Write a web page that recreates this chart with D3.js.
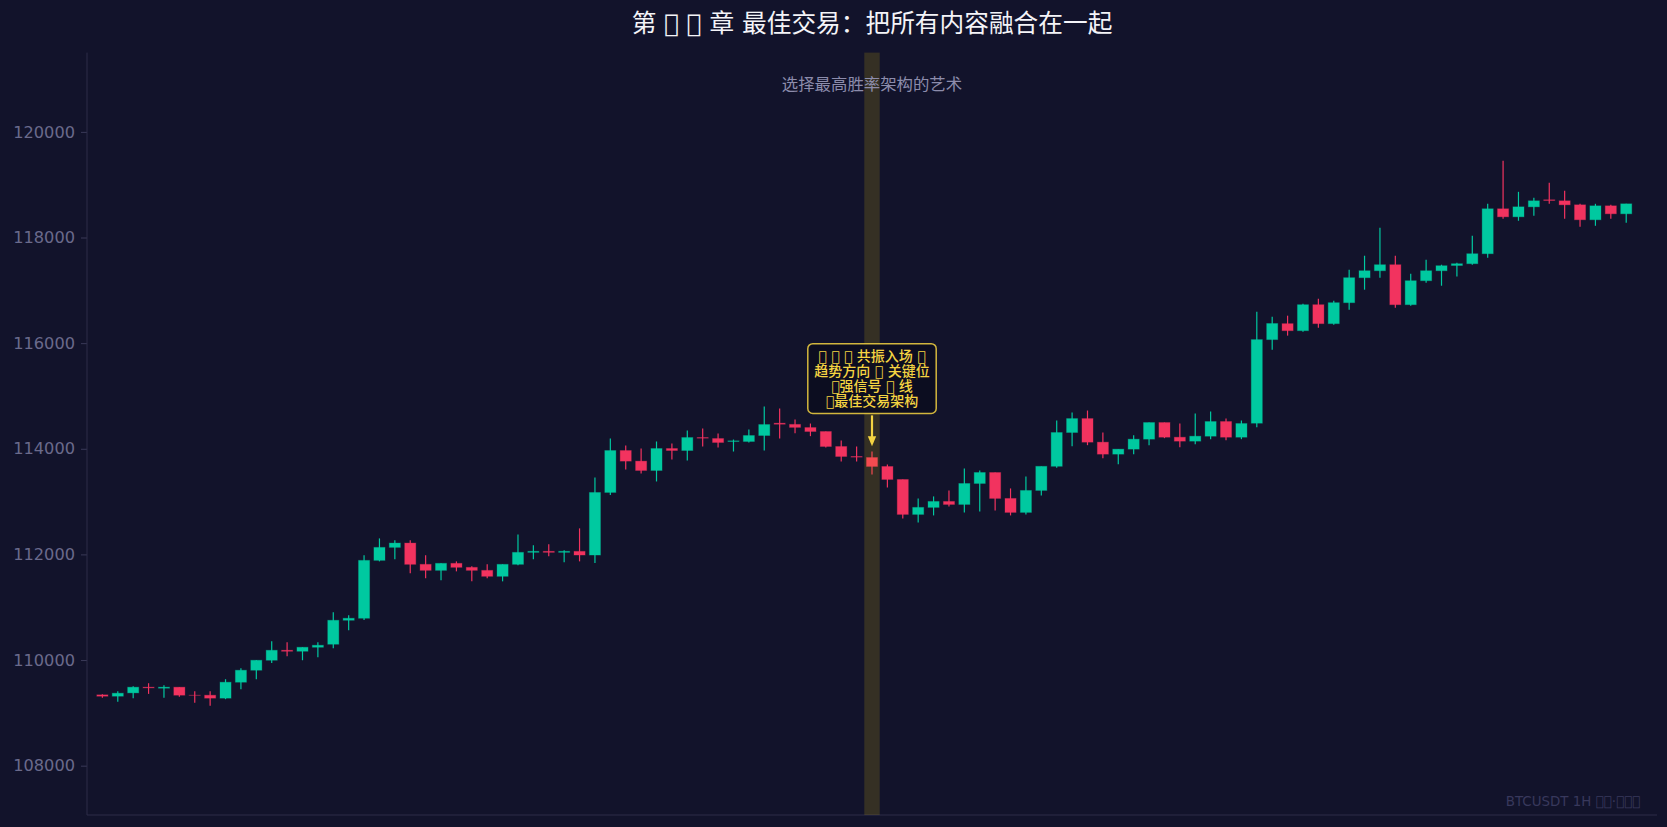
<!DOCTYPE html>
<html><head><meta charset="utf-8">
<script src="https://cdn.jsdelivr.net/npm/d3@7"></script>
<style>
html,body{margin:0;padding:0;background:#12132b;}
svg{display:block;}
</style></head>
<body>
<svg id="chart" width="1667" height="827"></svg>
<script>
// ---- data ----
const candleIndex = d3.range(100);
const openVals  = [109341,109315,109378,109486,109467,109486,109334,109334,109278,109580,
  109807,109996,110185,110166,110242,110299,110753,110791,111887,112133,
  112215,111812,111698,111831,111755,111698,111585,111812,112039,112058,
  112039,112058,111988,113173,113967,113766,113589,114005,113967,114213,
  114194,114138,114138,114251,114484,114462,114402,114327,114043,113854,
  113835,113665,113419,112757,112890,113003,112946,113343,113551,113060,
  112795,113211,113668,114308,114572,114125,113898,113993,114182,114497,
  114219,114144,114238,114516,114219,114484,116067,116369,116236,116728,
  116369,116766,117239,117371,117485,116728,117182,117371,117470,117504,
  117693,118544,118392,118581,118714,118695,118619,118336,118600,118449];
const highVals  = [109353,109410,109504,109561,109523,109486,109410,109410,109637,109845,
  110000,110356,110337,110242,110337,110904,110847,111982,112303,112266,
  112266,111982,111831,111868,111774,111812,111812,112379,112171,112190,
  112077,112493,113457,114194,114062,114005,114138,114100,114346,114383,
  114289,114175,114365,114799,114762,114554,114478,114327,114157,114043,
  113949,113703,113419,113060,113098,113211,113627,113589,113551,113249,
  113476,113665,114535,114686,114724,114308,113993,114257,114497,114497,
  114478,114667,114705,114572,114535,116596,116502,116520,116747,116842,
  116804,117390,117655,118184,117655,117314,117579,117485,117522,118033,
  118638,119451,118865,118752,119035,118884,118638,118638,118619,118638];
const lowVals   = [109284,109208,109278,109359,109284,109303,109189,109133,109259,109448,
  109637,109946,110072,109996,110053,110223,110563,110760,111868,111906,
  111641,111547,111509,111679,111490,111547,111490,111793,111906,111963,
  111850,111868,111837,113123,113608,113532,113381,113797,113778,114043,
  114024,113948,114119,113967,114194,114292,114239,114024,113760,113760,
  113514,113268,112682,112606,112738,112908,112795,112814,112833,112738,
  112757,113116,113639,114049,114068,113822,113709,113898,114068,114201,
  114030,114087,114182,114163,114182,114409,115877,116142,116217,116293,
  116350,116634,117012,117239,116672,116709,117144,117087,117261,117485,
  117617,118354,118317,118411,118638,118354,118203,118222,118354,118279];
const closeVals = [109315,109372,109486,109473,109486,109334,109330,109278,109580,109807,
  109996,110185,110166,110242,110280,110753,110791,111887,112133,112215,
  111812,111698,111831,111755,111698,111585,111812,112039,112058,112039,
  112058,111988,113173,113967,113766,113589,114005,113967,114213,114201,
  114119,114150,114251,114459,114465,114405,114327,114043,113854,113842,
  113665,113419,112757,112890,113003,112946,113343,113551,113060,112795,
  113211,113668,114308,114572,114125,113898,113993,114182,114497,114219,
  114144,114238,114516,114219,114478,116067,116372,116236,116728,116369,
  116766,117239,117371,117485,116728,117182,117371,117466,117504,117693,
  118544,118392,118581,118695,118701,118619,118336,118600,118449,118638];
const yTickValues = [108000,110000,112000,114000,116000,118000,120000];
const xDomain = [-1, 101];
const yDomain = [107066, 121501];
const highlightIndex = 50;
// glyphs the original font could not draw are kept as unassigned (private use) code points
const titleText = "第 \uE001 \uE002 章 最佳交易：把所有内容融合在一起";
const subtitleText = "选择最高胜率架构的艺术";
const annotationLines = ["\uE010 \uE011 \uE012 共振入场 \uE013", "趋势方向 \uE014 关键位", "\uE015强信号 \uE016 线", "\uE017最佳交易架构"];
const annotationPrice = 115330;
const watermarkText = "BTCUSDT 1H  \uE020\uE021·\uE022\uE023\uE024";

// ---- style ----
const UP = "#00c9a0", DOWN = "#f2335f", GOLD = "#f5d442";
const plot = {left: 87, right: 1657, top: 52.6, bottom: 815};

const svg = d3.select("#chart");
svg.append("rect").attr("width",1667).attr("height",827).attr("fill","#12132b");

const x = d3.scaleLinear().domain(xDomain).range([plot.left, plot.right]);
const y = d3.scaleLinear().domain(yDomain).range([plot.bottom, plot.top]);
const unit = x(1) - x(0);

const data = candleIndex.map(i => ({i, o: openVals[i], h: highVals[i], l: lowVals[i], c: closeVals[i]}));

// y axis
const yAxis = d3.axisLeft(y).tickValues(yTickValues).tickSize(6).tickPadding(6).tickFormat(d3.format("d"));
const ga = svg.append("g").attr("transform", `translate(${plot.left},0)`).call(yAxis);
ga.select(".domain").remove();
ga.selectAll(".tick line").attr("stroke", "#3a3a58").attr("stroke-width", 1);
ga.selectAll(".tick text").attr("fill", "#6a6a8b").style("font-family", "DejaVu Sans").style("font-size", "16.2px");

// spines
svg.append("line").attr("x1", plot.left).attr("x2", plot.left).attr("y1", plot.top).attr("y2", plot.bottom)
  .attr("stroke", "#2c2c48").attr("stroke-width", 1);
svg.append("line").attr("x1", plot.left).attr("x2", plot.right).attr("y1", plot.bottom).attr("y2", plot.bottom)
  .attr("stroke", "#2c2c48").attr("stroke-width", 1);

// candles
const g = svg.append("g");
const bw = unit * 0.72;
g.selectAll("line.wick").data(data).join("line").attr("class","wick")
  .attr("x1", d => x(d.i)).attr("x2", d => x(d.i))
  .attr("y1", d => y(d.h)).attr("y2", d => y(d.l))
  .attr("stroke", d => d.c >= d.o ? UP : DOWN).attr("stroke-width", 1.2);
g.selectAll("rect.body").data(data).join("rect").attr("class","body")
  .attr("x", d => x(d.i) - bw/2).attr("width", bw)
  .attr("y", d => y(Math.max(d.o, d.c)))
  .attr("height", d => Math.abs(y(d.o) - y(d.c)))
  .attr("fill", d => d.c >= d.o ? UP : DOWN)
  .attr("stroke", d => d.c >= d.o ? UP : DOWN)
  .attr("stroke-opacity", 0.3).attr("stroke-width", 1);

// highlight band
svg.append("rect")
  .attr("x", x(highlightIndex - 0.5)).attr("width", x(highlightIndex + 0.5) - x(highlightIndex - 0.5))
  .attr("y", plot.top).attr("height", plot.bottom - plot.top)
  .attr("fill", "rgb(255,215,0)").attr("fill-opacity", 0.15);

// title & subtitle
const cx = (plot.left + plot.right) / 2;
const FONT = "'DejaVu Sans','Noto Sans CJK SC'";
svg.append("text").attr("x", cx).attr("y", 23).attr("text-anchor","middle").attr("dominant-baseline","central")
  .attr("fill", "#f4f4f8").style("font-family", FONT).style("font-size","24.7px")
  .text(titleText);
svg.append("text").attr("x", cx).attr("y", 84).attr("text-anchor","middle").attr("dominant-baseline","central")
  .attr("fill", "#8c8cab").style("font-family", FONT).style("font-size","16.4px")
  .text(subtitleText);

// annotation
const ax = x(highlightIndex);
const ayc = y(annotationPrice);
const lineH = 15.2;
const ag = svg.append("g");
const boxRect = ag.append("rect");
const tg = ag.append("g");
annotationLines.forEach((t, k) => {
  tg.append("text").attr("x", ax).attr("y", ayc + (k - 1.5) * lineH)
    .attr("text-anchor","middle").attr("dominant-baseline","central")
    .attr("fill", GOLD).style("font-family", FONT)
    .style("font-size","14px").style("font-weight","500").text(t);
});
const bwid = 128.4;
const bh = 69.7;
boxRect.attr("x", ax - bwid/2).attr("y", ayc - bh/2).attr("width", bwid).attr("height", bh)
  .attr("rx", 5).attr("fill", "#0c0d20").attr("fill-opacity", 0.92)
  .attr("stroke", GOLD).attr("stroke-opacity", 0.85).attr("stroke-width", 1.5);
const tipY = y(highVals[highlightIndex] + 100);
const startY = ayc + bh/2 + 2;
svg.append("line").attr("x1", ax).attr("x2", ax).attr("y1", startY).attr("y2", tipY - 7)
  .attr("stroke", GOLD).attr("stroke-width", 2.2);
svg.append("path").attr("d", `M${ax-4.2},${tipY-10} L${ax+4.2},${tipY-10} L${ax},${tipY} Z`).attr("fill", GOLD);

// watermark
svg.append("text").attr("x", 1640).attr("y", 801).attr("text-anchor","end").attr("dominant-baseline","central")
  .attr("fill", "#38385c").style("font-family","'DejaVu Sans'").style("font-size","13.4px").text(watermarkText);
</script>
</body></html>
